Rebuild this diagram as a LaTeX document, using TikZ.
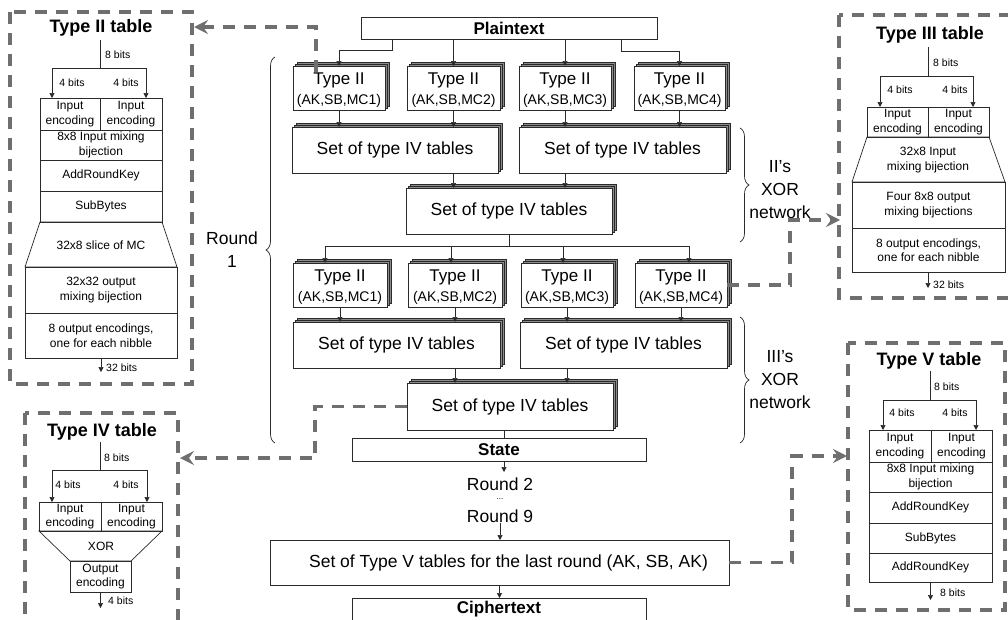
\documentclass[tikz,border=0pt]{standalone}
\usepackage{fontspec}
\setmainfont{Liberation Sans}
\usetikzlibrary{arrows.meta,decorations.pathreplacing}
\definecolor{dgray}{HTML}{6F6F6F}
\definecolor{shgray}{HTML}{8C8C8C}
\definecolor{lnc}{HTML}{2A2A2A}
\newcommand\fbig{\fontsize{17.5}{23}\selectfont}
\newcommand\fbold{\fontsize{17}{20}\selectfont\bfseries}
\newcommand\fttl{\fontsize{18}{21}\selectfont\bfseries}
\newcommand\fsm{\fontsize{12}{14.5}\selectfont}
\newcommand\fbits{\fontsize{10.5}{12}\selectfont}
\newcommand\fdots{\fontsize{8}{9}\selectfont}
\newcommand\fsub{\fontsize{14}{16}\selectfont}
\newcommand\ftii{\fontsize{17}{20}\selectfont}
\tikzset{
  panel/.style={draw=dgray,line width=3.3pt,dash pattern=on 12pt off 9pt},
  dlink/.style={draw=dgray,line width=3.3pt,dash pattern=on 12pt off 9pt,-{Stealth[length=14pt,width=14pt,inset=5pt]}},
  conn/.style={draw=lnc,line width=0.7pt},
  arr/.style={conn,-{Triangle[length=5pt,width=5pt]}},
  box/.style={draw=lnc,line width=0.7pt,fill=white,inner sep=0pt,outer sep=0pt,align=center},
  shd/.style={draw=lnc,line width=0.6pt,fill=shgray},
  lbl/.style={inner sep=0pt,align=center},
  brc/.style={draw=lnc,line width=0.7pt,decorate,decoration={brace,amplitude=9pt}},
}
\newcommand\bx[7][\fsm]{\node[box,font=#1,anchor=north west,minimum width={(#5-(#3))*1pt},minimum height={(#6-(#4))*1pt}] (#2) at (#3,#4) {#7};}
\newcommand\stackbox[7][\fbig]{%
  \filldraw[shd] ({#3+4},{#4-4}) rectangle ({#5+4},{#6-4});
  \filldraw[shd] ({#3+2},{#4-2}) rectangle ({#5+2},{#6-2});
  \bx[#1]{#2}{#3}{#4}{#5}{#6}{#7}}
\newcommand\typeii[6]{%
  \stackbox{#1}{#2}{#3}{#4}{#5}{}
  \node[lbl,font=\ftii] at ([yshift=-14pt]#1.north) {Type II};
  \node[lbl,font=\fsub] at ([yshift=-35pt]#1.north) {(AK,SB,#6)};}
\begin{document}
\begin{tikzpicture}[x=1pt,y=-1pt]
\useasboundingbox (0,0) rectangle (1008,619);
\fill[white] (0,0) rectangle (1008,619);
\clip (0,0) rectangle (1008,619);

% ---------------- Type II table panel
\draw[panel] (10,12) rectangle (192,384);
\node[lbl,font=\fttl] (t2t) at (101,28) {Type II table};
\coordinate (t2top) at (100,40);
\coordinate (t2j) at (100,68);
\bx{t2a}{40}{98}{100}{130}{Input\\encoding}
\bx{t2b}{100}{98}{162}{130}{Input\\encoding}
\draw[conn] (t2top) -- (t2j);
\draw[arr] (t2j) -| ([xshift=12pt]t2a.north west);
\draw[arr] (t2j) -| ([xshift=-16pt]t2b.north east);
\node[lbl,font=\fbits,anchor=west] at (105,55) {8 bits};
\node[lbl,font=\fbits] at (72,83) {4 bits};
\node[lbl,font=\fbits] at (126,83) {4 bits};
\bx{t2mix}{40}{130}{162}{160}{8x8 Input mixing\\bijection}
\bx{t2ark}{40}{160}{162}{191}{AddRoundKey}
\bx{t2sb}{40}{191}{162}{222}{SubBytes}
\draw[conn] (40,222) -- (162,222) -- (177,267) -- (25,267) -- cycle;
\node[lbl,font=\fsm] (t2mc) at (101,245) {32x8 slice of MC};
\bx{t2omb}{25}{267}{177}{313}{32x32 output\\mixing bijection}
\bx{t2oe}{25}{313}{177}{358}{8 output encodings,\\one for each nibble}
\draw[arr] (t2oe.south) -- ++(0,14);
\node[lbl,font=\fbits,anchor=west] at (106,368) {32 bits};

% ---------------- Type IV table panel
\draw[panel] (25,413) rectangle (178,640);
\node[lbl,font=\fttl] (t4t) at (102,432) {Type IV table};
\coordinate (t4top) at (100,442);
\coordinate (t4j) at (100,470);
\bx{t4a}{39}{502}{101}{531}{Input\\encoding}
\bx{t4b}{101}{502}{162}{531}{Input\\encoding}
\draw[conn] (t4top) -- (t4j);
\draw[arr] (t4j) -| ([xshift=13pt]t4a.north west);
\draw[arr] (t4j) -| ([xshift=-15pt]t4b.north east);
\node[lbl,font=\fbits,anchor=west] at (104,458) {8 bits};
\node[lbl,font=\fbits] at (68,485) {4 bits};
\node[lbl,font=\fbits] at (126,485) {4 bits};
\draw[conn] (39,531) -- (162,531) -- (131,561) -- (70,561) -- cycle;
\node[lbl,font=\fsm] (t4x) at (101,546) {XOR};
\bx{t4oe}{70}{561}{131}{592}{Output\\encoding}
\draw[arr] (t4oe.south) -- ++(0,16);
\node[lbl,font=\fbits,anchor=west] at (108,601) {4 bits};

% ---------------- Type III table panel
\draw[panel] (839,15) rectangle (1020,298);
\node[lbl,font=\fttl] (t3t) at (930,35) {Type III table};
\coordinate (t3top) at (928,47);
\coordinate (t3j) at (928,76);
\bx{t3a}{867}{107}{928}{137}{Input\\encoding}
\bx{t3b}{928}{107}{989}{137}{Input\\encoding}
\draw[conn] (t3top) -- (t3j);
\draw[arr] (t3j) -| ([xshift=13pt]t3a.north west);
\draw[arr] (t3j) -| ([xshift=-16pt]t3b.north east);
\node[lbl,font=\fbits,anchor=west] at (933,63) {8 bits};
\node[lbl,font=\fbits] at (900,90) {4 bits};
\node[lbl,font=\fbits] at (955,90) {4 bits};
\draw[conn] (867,137) -- (989,137) -- (1005,182) -- (852,182) -- cycle;
\node[lbl,font=\fsm] (t3mix) at (928,160) {32x8 Input\\mixing bijection};
\bx{t3four}{852}{182}{1005}{228}{Four 8x8 output\\mixing bijections}
\bx{t3oe}{852}{228}{1005}{272}{8 output encodings,\\one for each nibble}
\draw[arr] (t3oe.south -| t3top) -- ++(0,16);
\node[lbl,font=\fbits,anchor=west] at (933,285) {32 bits};

% ---------------- Type V table panel
\draw[panel] (848,343) rectangle (1005,610);
\node[lbl,font=\fttl] (t5t) at (929,361) {Type V table};
\coordinate (t5top) at (930,371);
\coordinate (t5j) at (930,400);
\bx{t5a}{869}{430}{931}{462}{Input\\encoding}
\bx{t5b}{931}{430}{992}{462}{Input\\encoding}
\draw[conn] (t5top) -- (t5j);
\draw[arr] (t5j) -| ([xshift=14pt]t5a.north west);
\draw[arr] (t5j) -| ([xshift=-16pt]t5b.north east);
\node[lbl,font=\fbits,anchor=west] at (934,387) {8 bits};
\node[lbl,font=\fbits] at (902,413) {4 bits};
\node[lbl,font=\fbits] at (955,413) {4 bits};
\bx{t5mix}{869}{462}{992}{492}{8x8 Input mixing\\bijection}
\bx{t5ark}{869}{492}{992}{523}{AddRoundKey}
\bx{t5sb}{869}{523}{992}{553}{SubBytes}
\bx{t5ark2}{869}{553}{992}{582}{AddRoundKey}
\draw[arr] (t5ark2.south) -- ++(0,18);
\node[lbl,font=\fbits,anchor=west] at (940,593) {8 bits};

% ---------------- centre column
\bx[\fbold]{pt}{361}{17}{657}{39}{Plaintext}
\typeii{r1a}{293}{66}{385}{110}{MC1}
\typeii{r1b}{407}{66}{500}{110}{MC2}
\typeii{r1c}{519}{66}{611}{110}{MC3}
\typeii{r1d}{634}{66}{725}{110}{MC4}
\stackbox{sa}{292}{127}{498}{173}{Set of type IV tables}
\stackbox{sb}{519}{127}{726}{173}{Set of type IV tables}
\stackbox{sc}{406}{188}{612}{234}{Set of type IV tables}
\typeii{r2a}{293}{263}{387}{307}{MC1}
\typeii{r2b}{408}{263}{502}{307}{MC2}
\typeii{r2c}{521}{263}{613}{307}{MC3}
\typeii{r2d}{635}{263}{727}{307}{MC4}
\stackbox{sd}{293}{322}{500}{368}{Set of type IV tables}
\stackbox{se}{520}{322}{727}{368}{Set of type IV tables}
\stackbox{sf}{407}{383}{613}{430}{Set of type IV tables}
\bx[\fbold]{st}{352}{438}{646}{461}{State}
\node[lbl,font=\fbig] (rd2) at (500,484) {Round 2};
\node[lbl,font=\fdots] (rdd) at (500,499) {...};
\node[lbl,font=\fbig] (rd9) at (500,516) {Round 9};
\bx[\fbig]{sv}{270}{540}{729}{585}{\hspace*{18pt}Set of Type V tables for the last round (AK, SB, AK)}
\bx[\fbold]{ct}{352}{598}{646}{621}{Ciphertext}

% plaintext fan-out
\draw[arr] ([xshift=31pt]pt.south west) -- ++(0,11) -| (r1a.north);
\draw[arr] (pt.south -| r1b.north) -- (r1b.north);
\draw[arr] (pt.south -| r1c.north) -- (r1c.north);
\draw[arr] ([xshift=-36pt]pt.south east) -- ++(0,12) -| (r1d.north);
% row 1 -> set IV
\draw[arr] (r1a.south) -- (r1a.south |- sa.north);
\draw[arr] (r1b.south) -- (r1b.south |- sa.north);
\draw[arr] (r1c.south) -- (r1c.south |- sb.north);
\draw[arr] (r1d.south) -- (r1d.south |- sb.north);
\draw[arr] (r1b.south |- sa.south) -- (r1b.south |- sc.north);
\draw[arr] (r1c.south |- sb.south) -- (r1c.south |- sc.north);
% sc -> row 2
\draw[conn] (sc.south) -- ++(0,12) coordinate (hub);
\draw[arr] (hub) -| ([xshift=-15pt]r2a.north);
\draw[arr] (hub) -| ([xshift=-4pt]r2b.north);
\draw[arr] (hub) -| ([xshift=-4pt]r2c.north);
\draw[arr] (hub) -| ([xshift=8pt]r2d.north);
% row 2 -> set IV
\draw[arr] (r2a.south) -- (r2a.south |- sd.north);
\draw[arr] (r2b.south) -- (r2b.south |- sd.north);
\draw[arr] (r2c.south) -- (r2c.south |- se.north);
\draw[arr] (r2d.south) -- (r2d.south |- se.north);
\draw[arr] (r2b.south |- sd.south) -- (r2b.south |- sf.north);
\draw[arr] (r2c.south |- se.south) -- (r2c.south |- sf.north);
\draw[conn] ([xshift=-6pt]sf.south) -- ([xshift=-6pt]sf.south |- st.north);
\draw[arr] ([xshift=5pt]st.south) -- ++(0,11);
\draw[arr] (rd9.south) -- (rd9.south |- sv.north);
\draw[arr] (sv.south) -- (sv.south |- ct.north);

% braces
\draw[brc] (275,443) -- (275,57);
\node[lbl,font=\fbig] (rnd) at (232,250) {Round\\1};
\draw[brc] (740,128) -- (740,242);
\node[lbl,font=\fbig] (xor2) at (780,190) {II's\\XOR\\network};
\draw[brc] (740,317) -- (740,443);
\node[lbl,font=\fbig] (xor3) at (780,380) {III's\\XOR\\network};

% dashed links to the panels
\coordinate (t2edge) at (194,27);
\coordinate (t3edge) at (840,220);
\coordinate (t4edge) at (180,458);
\coordinate (t5edge) at (847,456);
\draw[dlink] ([xshift=-23pt,yshift=-6pt]r1a.north) |- (t2edge);
\draw[dlink] (r2d.east) -- ++(63,0) |- (t3edge);
\draw[dlink] (sf.west) -- ++(-92,0) |- (t4edge);
\draw[dlink] (sv.east) -- ++(63,0) |- (t5edge);
\end{tikzpicture}
\end{document}
